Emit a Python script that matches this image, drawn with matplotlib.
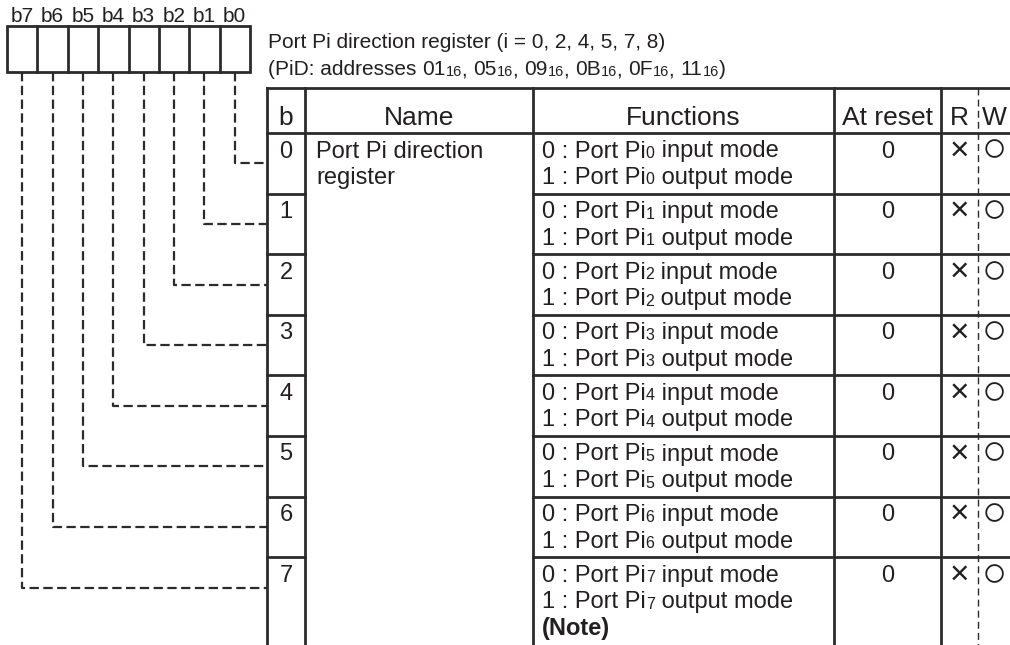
import matplotlib
matplotlib.use("Agg")
import matplotlib.pyplot as plt

# ---------------- data ----------------
bit_labels = ["b7", "b6", "b5", "b4", "b3", "b2", "b1", "b0"]
bits = [0, 1, 2, 3, 4, 5, 6, 7]
headers = ["b", "Name", "Functions", "At reset", "R", "W"]
reg_name = ["Port Pi direction", "register"]
func_on = "0 : Port Pi"
func_off = "1 : Port Pi"
func_on_tail = " input mode"
func_off_tail = " output mode"
reset_vals = ["0", "0", "0", "0", "0", "0", "0", "0"]
read_marks = ["×"] * 8
write_marks = ["○"] * 8
note_text = "(Note)"
title1 = "Port Pi direction register (i = 0, 2, 4, 5, 7, 8)"
addr_list = ["01", "05", "09", "0B", "0F", "11"]
addr_sub = "16"

# ---------------- layout ----------------
W, H = 1010, 645
fig = plt.figure(figsize=(W / 100, H / 100), dpi=100)
ax = fig.add_axes([0, 0, 1, 1])
ax.set_xlim(0, W)
ax.set_ylim(H, 0)
ax.axis("off")
renderer = fig.canvas.get_renderer()

FONT = ["Liberation Sans", "DejaVu Sans"]
TC = "#231f20"
LC = "#2b2b2b"
BODY = 17
SUB = 11.5
HEAD = 19


def text_w(s, size, weight="normal"):
    t1 = ax.text(0, 0, "|" + s + "|", fontsize=size, family=FONT, weight=weight)
    t2 = ax.text(0, 0, "||", fontsize=size, family=FONT, weight=weight)
    w = t1.get_window_extent(renderer).width - t2.get_window_extent(renderer).width
    t1.remove()
    t2.remove()
    return w


def runs(x, y, parts, color=TC):
    # parts: list of (string, size, dy)
    for s, size, dy in parts:
        ax.text(x, y + dy, s, fontsize=size, family=FONT, color=color,
                ha="left", va="baseline")
        x += text_w(s, size)


# bit box
box_l, box_r, box_t, box_b = 7, 250, 26, 72
cw = (box_r - box_l) / 8
ax.add_patch(plt.Rectangle((box_l, box_t), box_r - box_l, box_b - box_t,
                           fill=False, lw=2, ec=LC))
for k in range(1, 8):
    ax.plot([box_l + k * cw] * 2, [box_t, box_b], color=LC, lw=2)
for k, lab in enumerate(bit_labels):
    ax.text(box_l + (k + 0.5) * cw, 22, lab, fontsize=15, family=FONT,
            color=TC, ha="center", va="baseline")

# titles
ax.text(268, 48, title1, fontsize=15, family=FONT, color=TC, ha="left", va="baseline")
parts = [("(PiD: addresses ", 15, 0)]
for i, a in enumerate(addr_list):
    parts.append((a, 15, 0))
    parts.append((addr_sub, 10.5, 0.5))
    parts.append((", " if i < len(addr_list) - 1 else ")", 15, 0))
runs(268, 75, parts)

# table geometry
xl, xb, xn, xf, xr, xrw, xend = 267, 305, 533, 834, 941, 978, 1012
y_head_t, y_head_b = 88, 133
row_h = 60.6
row_tops = [y_head_b + row_h * i for i in range(8)]

# horizontal lines
ax.plot([xl, xend], [y_head_t, y_head_t], color=LC, lw=2)
ax.plot([xl, xend], [y_head_b, y_head_b], color=LC, lw=2)
for rt in row_tops[1:]:
    ax.plot([xl, xb], [rt, rt], color=LC, lw=2)
    ax.plot([xn, xend], [rt, rt], color=LC, lw=2)
# vertical lines
for xv in [xl, xb, xn, xf, xr]:
    ax.plot([xv, xv], [y_head_t, H + 2], color=LC, lw=2)
ax.plot([xrw, xrw], [y_head_t, H + 2], color=LC, lw=1, ls=(0, (5, 3)))

# header texts
centers = [(xl + xb) / 2, (xb + xn) / 2, (xn + xf) / 2, (xf + xr) / 2,
           (xr + xrw) / 2, 994]
for c, h in zip(centers, headers):
    ax.text(c, 125, h, fontsize=HEAD, family=FONT, color=TC, ha="center", va="baseline")

# name
ax.text(xb + 11, row_tops[0] + 24.5, reg_name[0], fontsize=BODY, family=FONT,
        color=TC, ha="left", va="baseline")
ax.text(xb + 11, row_tops[0] + 51, reg_name[1], fontsize=BODY, family=FONT,
        color=TC, ha="left", va="baseline")

for i, b in enumerate(bits):
    rt = row_tops[i]
    y1, y2 = rt + 24.5, rt + 51
    ax.text(centers[0], y1, str(b), fontsize=BODY, family=FONT, color=TC,
            ha="center", va="baseline")
    runs(xn + 9, y1, [(func_on, BODY, 0), (str(b), SUB, 0.5), (func_on_tail, BODY, 0)])
    runs(xn + 9, y2, [(func_off, BODY, 0), (str(b), SUB, 0.5), (func_off_tail, BODY, 0)])
    ax.text(centers[3], y1, reset_vals[i], fontsize=BODY, family=FONT, color=TC,
            ha="center", va="baseline")
    ax.text(centers[4], rt + 26.5, read_marks[i], fontsize=24, family=FONT, color=TC,
            ha="center", va="baseline")
    ax.text(centers[5], rt + 28.5, write_marks[i], fontsize=30, family=FONT, color=TC,
            ha="center", va="baseline")
    if b == 7:
        ax.text(xn + 9, rt + 78, note_text, fontsize=BODY, family=FONT, color=TC,
                ha="left", va="baseline", weight="bold")

    # connector from bit box
    k = 7 - b
    bx = box_l + (k + 0.5) * cw
    ym = rt + row_h / 2
    ax.plot([bx, bx, xl], [box_b, ym, ym], color=LC, lw=1.6, ls=(0, (4.2, 2)))

fig.savefig("out.png", dpi=100)
